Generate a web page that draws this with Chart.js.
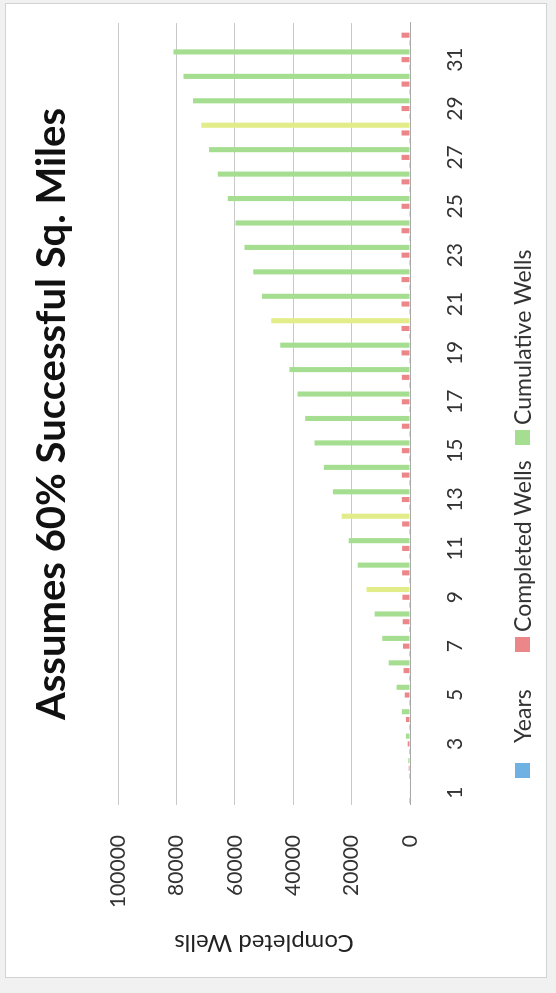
<!DOCTYPE html>
<html>
<head>
<meta charset="utf-8">
<script src="https://cdn.jsdelivr.net/npm/chart.js@4.4.1/dist/chart.umd.min.js"></script>
<style>
  html, body { margin: 0; padding: 0; width: 556px; height: 993px; overflow: hidden; background: #f1f1f1; }
  /* the landscape chart is laid out at 993x556 and turned a quarter turn counter-clockwise */
  #frame { position: absolute; left: 0; top: 0; width: 993px; height: 556px;
           transform-origin: 0 0; transform: translate(0, 993px) rotate(-90deg); }
  #card { position: absolute; left: 15px; top: 5px; width: 973px; height: 540px;
          background: #ffffff; border: 1px solid #d2d2d2; }
  #c { position: absolute; left: 0; top: 0; }
  .lg-box { position: absolute; top: 515px; width: 15px; height: 15px; }
  .lg-text { position: absolute; top: 507px; height: 30px; line-height: 30px;
             font-family: Lato, sans-serif; font-size: 23px; color: #333; white-space: nowrap; }
</style>
</head>
<body>
<div id="frame">
  <div id="card"></div>
  <canvas id="c" width="993" height="556"></canvas>
  <div class="lg-box" style="left:215px;background:#6eb1e2"></div>
  <div class="lg-text" style="left:250px">Years</div>
  <div class="lg-box" style="left:341px;background:#ec8789"></div>
  <div class="lg-text" style="left:361px">Completed Wells</div>
  <div class="lg-box" style="left:548px;background:#a5de90"></div>
  <div class="lg-text" style="left:568px">Cumulative Wells</div>
</div>
<script>
// Year index of each bar group
const years = [1, 2, 3, 4, 5, 6, 7, 8, 9, 10, 11, 12, 13, 14, 15, 16,
               17, 18, 19, 20, 21, 22, 23, 24, 25, 26, 27, 28, 29, 30, 31, 32];

// Wells completed in each year
const completedWells = [200, 450, 800, 1400, 1800, 2200, 2400, 2500, 2600, 2700, 2700, 2700,
                        2800, 2800, 2800, 2800, 2800, 2800, 2900, 2900, 2900, 2900, 2900, 2900,
                        2900, 2900, 2900, 2900, 2900, 2900, 2900, 2900];

// Running total of completed wells (no total shown for the last year)
const cumulativeWells = [200, 600, 1400, 2800, 4600, 7300, 9500, 12100, 14900, 17900, 21000, 23400,
                         26400, 29500, 32700, 35900, 38500, 41300, 44400, 47500, 50700, 53700, 56700, 59800,
                         62400, 65800, 68800, 71500, 74300, 77600, 81000, null];

// Value axis ticks
const valueTicks = [0, 20000, 40000, 60000, 80000, 100000];

// Years whose cumulative bar prints in a yellower green
const yellowYears = [9, 12, 20, 28];

const categoryLabels = years.map(String);
const cumulativeColors = years.map(y => yellowYears.includes(y) ? '#e2ed8a' : '#a5de90');

const baseFont = { family: 'Lato, sans-serif', size: 21 };

new Chart(document.getElementById('c'), {
  type: 'bar',
  data: {
    labels: categoryLabels,
    datasets: [
      { label: 'Years', data: years, backgroundColor: '#6eb1e2' },
      { label: 'Completed Wells', data: completedWells, backgroundColor: '#ec8789' },
      { label: 'Cumulative Wells', data: cumulativeWells, backgroundColor: cumulativeColors }
    ]
  },
  options: {
    responsive: false,
    animation: false,
    devicePixelRatio: 1,
    layout: { padding: { left: 10, right: 23, top: 5, bottom: 86 } },
    datasets: { bar: { categoryPercentage: 0.95, barPercentage: 0.66 } },
    plugins: {
      legend: { display: false },
      tooltip: { enabled: false },
      title: {
        display: true,
        fullSize: false,
        text: 'Assumes 60% Successful Sq. Miles',
        color: '#111',
        font: { family: 'Lato, sans-serif', size: 40, weight: 'bold', lineHeight: 1.2 },
        padding: { top: 23, bottom: 42 }
      }
    },
    scales: {
      x: {
        grid: { display: false, drawTicks: false },
        border: { display: true, color: '#a8a8a8', width: 1 },
        ticks: {
          autoSkip: false,
          maxRotation: 0,
          color: '#333',
          font: baseFont,
          padding: 33,
          callback: function (value, index) { return index % 2 === 0 ? categoryLabels[index] : ''; }
        },
        afterFit: scale => { scale.height = 60; }
      },
      y: {
        min: valueTicks[0],
        max: valueTicks[valueTicks.length - 1],
        afterBuildTicks: scale => { scale.ticks = valueTicks.map(v => ({ value: v })); },
        grid: { color: '#c9c9c9', lineWidth: 1, drawTicks: false },
        border: { display: false },
        ticks: {
          color: '#333',
          font: baseFont,
          padding: 30,
          callback: v => String(v)
        },
        title: {
          display: true,
          text: 'Completed Wells',
          color: '#222',
          font: { family: 'Lato, sans-serif', size: 24, lineHeight: 1.2 },
          padding: { top: 26, bottom: 0 }
        },
        afterFit: scale => { scale.width = 178; }
      }
    }
  }
});
</script>
</body>
</html>
